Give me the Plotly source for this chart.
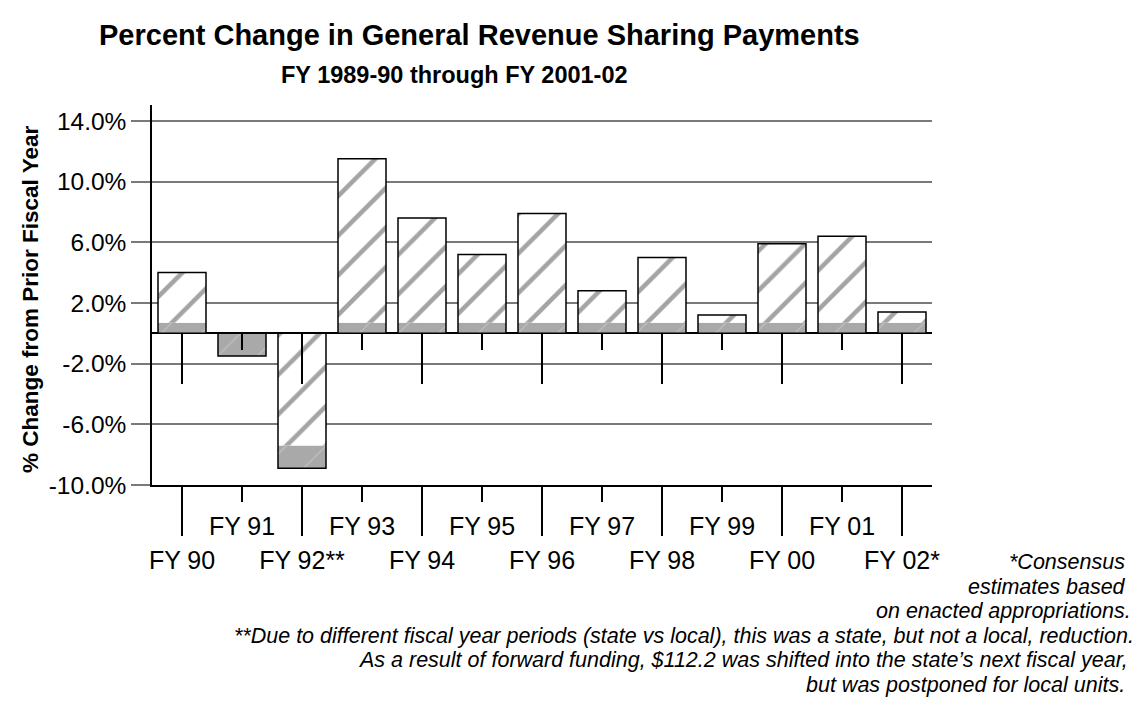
import plotly.graph_objects as go

# ---- data ----
categories = ["FY 90", "FY 91", "FY 92**", "FY 93", "FY 94", "FY 95", "FY 96",
              "FY 97", "FY 98", "FY 99", "FY 00", "FY 01", "FY 02*"]
solid_part = [0.7, -1.5, -1.5, 0.7, 0.7, 0.7, 0.7, 0.7, 0.7, 0.7, 0.7, 0.7, 0.7]
hatched_part = [3.3, 0.0, -7.4, 10.8, 6.9, 4.5, 7.2, 2.1, 4.3, 0.5, 5.2, 5.7, 0.7]
y_tick_values = [-10, -6, -2, 2, 6, 10, 14]
y_tick_labels = ["-10.0%", "-6.0%", "-2.0%", "2.0%", "6.0%", "10.0%", "14.0%"]
y_range = [-10, 15.05]

title_text = "Percent Change in General Revenue Sharing Payments"
subtitle_text = "FY 1989-90 through FY 2001-02"
y_title_text = "% Change from Prior Fiscal Year"
footnotes = [
    "*Consensus",
    "estimates based",
    "on enacted appropriations.",
    "**Due to different fiscal year periods (state vs local), this was a state, but not a local, reduction.",
    "As a result of forward funding, $112.2 was shifted into the state\u2019s next fiscal year,",
    "but was postponed for local units.",
]

# ---- derived ----
idx = list(range(len(categories)))
even_idx = [i for i in idx if i % 2 == 0]
odd_idx = [i for i in idx if i % 2 == 1]
totals = [round(s + h, 2) for s, h in zip(solid_part, hatched_part)]
solid_base = [h if (h < 0 and s < 0) else 0 for s, h in zip(solid_part, hatched_part)]
hatched_base = [s if (s > 0 and h > 0) else 0 for s, h in zip(solid_part, hatched_part)]
zero_pos = (0 - y_range[0]) / (y_range[1] - y_range[0])

# page offset (browser body margin)
OFF = 8
W, H = 1140, 712
ML, MT = 152 - OFF, 105 - OFF
PW, PH = 780, 380
MR, MB = W - ML - PW, H - MT - PH


def px_x(x):
    return (x - OFF - ML) / PW


def px_y(y):
    return (MT + PH - (y - OFF)) / PH


FONT = "Liberation Sans, Arial, sans-serif"
BAR_W = 0.8

fig = go.Figure()
fig.add_trace(go.Bar(
    x=idx, y=solid_part, base=solid_base, width=BAR_W,
    marker=dict(color="#a9a9a9", line=dict(width=0),
                pattern=dict(shape="/", fgcolor="#c4c4c4", bgcolor="#a9a9a9",
                             size=28, solidity=0.04, fgopacity=1)),
    hoverinfo="skip", showlegend=False))
fig.add_trace(go.Bar(
    x=idx, y=hatched_part, base=hatched_base, width=BAR_W,
    marker=dict(color="white", line=dict(width=0),
                pattern=dict(shape="/", fgcolor="#a4a4a4", bgcolor="white",
                             size=28, solidity=0.16, fgopacity=1)),
    hoverinfo="skip", showlegend=False))
fig.add_trace(go.Bar(
    x=idx, y=totals, width=BAR_W,
    marker=dict(color="rgba(0,0,0,0)", line=dict(color="black", width=1.5)),
    hoverinfo="skip", showlegend=False))
# carriers so the overlaying tick axes are drawn
for ax in ["x2", "x3", "x4"]:
    fig.add_trace(go.Scatter(x=[idx[0]], y=[0], xaxis=ax, yaxis="y", mode="markers",
                             marker=dict(opacity=0), hoverinfo="skip",
                             showlegend=False))

common_x = dict(range=[-0.5, 12.5], showgrid=False, zeroline=False,
                tickmode="array", tickcolor="black", tickwidth=1.5,
                ticks="outside", tickfont=dict(family=FONT, size=25, color="black"))

fig.update_layout(
    width=W, height=H,
    margin=dict(l=ML, r=MR, t=MT, b=MB, pad=0),
    paper_bgcolor="white", plot_bgcolor="white",
    barmode="overlay",
    font=dict(family=FONT, color="black"),
    xaxis=dict(**common_x, tickvals=even_idx,
               ticktext=[categories[i] for i in even_idx], ticklen=49,
               ticklabelstandoff=3,
               showline=True, linecolor="black", linewidth=1.5),
    xaxis2=dict(**common_x, overlaying="x", anchor="y", side="bottom",
                tickvals=odd_idx, ticktext=[categories[i] for i in odd_idx],
                ticklen=16, ticklabelstandoff=3, showline=False),
    xaxis3=dict(**common_x, overlaying="x", anchor="free", position=zero_pos,
                side="bottom", tickvals=even_idx, showticklabels=False,
                ticklen=50, showline=False),
    xaxis4=dict(**common_x, overlaying="x", anchor="free", position=zero_pos,
                side="bottom", tickvals=odd_idx, showticklabels=False,
                ticklen=16, showline=False),
    yaxis=dict(range=y_range, tickmode="array", tickvals=y_tick_values,
               ticktext=y_tick_labels, showgrid=True, gridcolor="#7a7a7a",
               gridwidth=2, zeroline=True, zerolinecolor="black",
               zerolinewidth=1.5, showline=True, linecolor="black",
               linewidth=1.5, ticks="outside", ticklen=19, tickcolor="#7a7a7a",
               tickwidth=2, tickfont=dict(family=FONT, size=24.5, color="black")),
)

annotations = [
    dict(text=title_text, x=px_x(479), y=px_y(35), xanchor="center", yanchor="middle",
         font=dict(family=FONT, size=29, color="black", weight="bold")),
    dict(text=subtitle_text, x=px_x(454), y=px_y(75), xanchor="center", yanchor="middle",
         font=dict(family=FONT, size=23.5, color="black", weight="bold")),
    dict(text=y_title_text, x=px_x(30), y=px_y(300), xanchor="center", yanchor="middle",
         textangle=-90, font=dict(family=FONT, size=22.5, color="black", weight="bold")),
]
foot_right = [1127, 1128, 1133, 1136, 1130, 1127]
foot_y = [562, 586.6, 611.2, 635.8, 660.4, 685]
for t, xr, yc in zip(footnotes, foot_right, foot_y):
    annotations.append(dict(text=t, x=px_x(xr), y=px_y(yc), xanchor="right",
                            yanchor="middle",
                            font=dict(family=FONT, size=21.5, color="black",
                                      style="italic")))
for a in annotations:
    a.update(xref="paper", yref="paper", showarrow=False)
fig.update_layout(annotations=annotations)

fig.write_html("out.html")
